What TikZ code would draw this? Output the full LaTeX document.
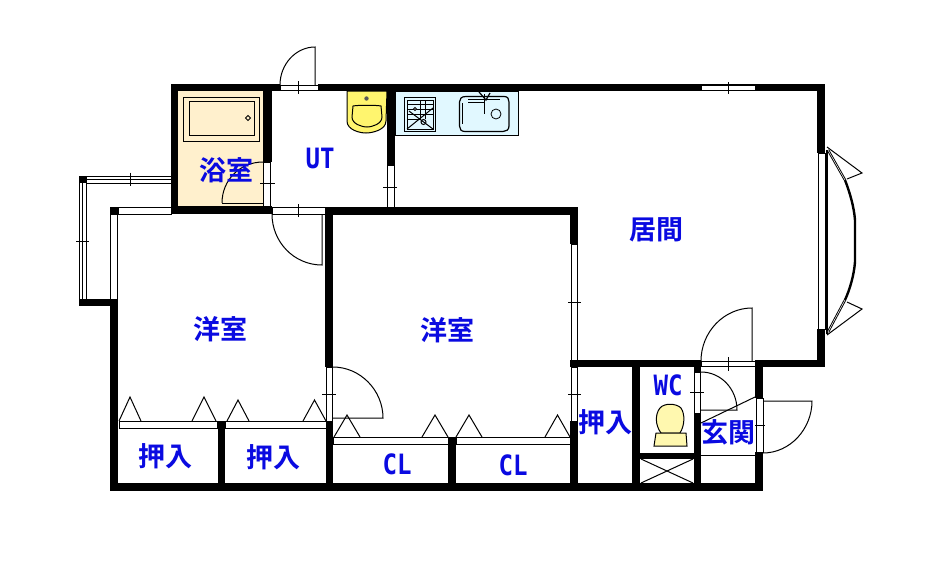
\documentclass[tikz,border=0pt]{standalone}
\usepackage{fontspec}
\newfontfamily\jp{Noto Sans CJK JP}[BoldFont={Noto Sans CJK JP Bold}]
\newfontfamily\lat{DejaVu Sans Mono}
\definecolor{txtblue}{RGB}{10,10,225}
\definecolor{bathfill}{RGB}{255,240,205}
\definecolor{sinkfill}{RGB}{225,248,255}
\definecolor{basinfill}{RGB}{255,245,110}
\definecolor{wcfill}{RGB}{255,248,175}
\tikzset{
  wallfill/.style={fill=black,draw=none},
  thin line/.style={draw=black,line width=1pt},
  winbox/.style={draw=black,fill=white,line width=1pt},
  roomlabel/.style={font=\jp\bfseries\fontsize{27}{27}\selectfont,text=txtblue,inner sep=0pt},
  latlabel/.style={font=\lat\bfseries\fontsize{28}{28}\selectfont,text=txtblue,inner sep=0pt},
}
\newcommand{\wl}[4]{\fill[wallfill] (#1,#2) rectangle (#3,#4);}
\newcommand{\wn}[4]{\draw[winbox] (#1,#2) rectangle (#3,#4);}
\newcommand{\tri}[4]{\draw[thin line] (#1,#4) -- (#2,#3) -- ++(#2-#1,#4-#3);}
\begin{document}
\begin{tikzpicture}[x=1pt,y=-1pt]
\useasboundingbox (0,0) rectangle (930,576);
\fill[white] (0,0) rectangle (930,576);
% fills
\fill[bathfill] (178,91) rectangle (263,206);
% balcony
\draw[thin line] (79,176) -- (171,176) (87,179.5) -- (171,179.5) (87,183) -- (171,183);
\draw[thin line] (79.5,176) -- (79.5,299) (82.5,183) -- (82.5,299) (86.5,183) -- (86.5,299);
\wl{79}{176}{87}{183}
\draw[thin line] (130,172.5) -- (130,186);
\draw[thin line] (76,241) -- (89,241);
% left bedroom windows
\wn{118}{207.5}{171}{214}
\wn{110.5}{214}{117.5}{299}
\wl{110}{207}{118}{214}
\wl{79}{299}{118}{306}
% outer walls
\wl{171}{84}{280}{91}
\wl{318}{84}{825}{91}
\wl{171}{84}{178}{214}
\wl{171}{206}{272}{214}
\wl{263}{84}{272}{162}
\wl{387}{84}{395}{165}
\wl{325}{207}{578}{215}
\wl{325}{207}{333}{367}
\wl{570}{207}{578}{244}
\wl{110}{299}{118}{491}
\wl{110}{483}{763}{491}
\wl{817}{84}{825}{153}
\wl{817}{329}{825}{367}
\wl{570}{360}{701}{367}
\wl{755}{360}{825}{367}
\wl{570}{421}{578}{491}
\wl{326}{421}{333}{491}
\wl{218}{421}{225}{491}
\wl{448}{437}{456}{491}
\wl{632}{360}{640}{491}
\wl{694}{360}{701}{372}
\wl{694}{413}{701}{491}
\wl{640}{453}{694}{459}
\wl{755}{360}{763}{398}
\wl{755}{452}{763}{491}
% windows and openings
\wn{280}{85}{318}{90.5}
\draw[thin line] (298,81) -- (298,94);
\wn{701}{85}{755}{90.5}
\draw[thin line] (728,82) -- (728,94);
\wn{263.5}{162}{270}{206}
\draw[thin line] (260,183) -- (275,183);
\wn{272}{207.5}{325}{214.5}
\draw[thin line] (298,204) -- (298,217);
\wn{387.5}{165}{394.5}{207}
\draw[thin line] (383,187) -- (397,187);
\wn{571}{244}{577.5}{360}
\draw[thin line] (568,302) -- (581,302);
\wn{571}{367}{577.5}{421}
\draw[thin line] (568,394) -- (581,394);
\wn{326}{367}{332.5}{421}
\draw[thin line] (322,394) -- (336,394);
\wn{818}{153}{825}{329}
\wn{701}{361}{755}{366.5}
\draw[thin line] (728,357) -- (728,371);
\wn{694.5}{372}{700.5}{413}
\draw[thin line] (690,392) -- (704,392);
\wn{756}{398}{763}{452}
\draw[thin line] (755,425) -- (765,425);
% sliding doors
\wn{119}{421}{217}{428}
\wn{225}{421}{326}{428}
\wn{333}{437}{448}{444}
\wn{456}{437}{570}{444}
% folding door triangles
\tri{119}{130}{397}{421}
\tri{192}{204}{397}{421}
\tri{227}{238}{400}{421}
\tri{303}{314.5}{400}{421}
\tri{334}{347}{415}{437}
\tri{422}{435}{415}{437}
\tri{456}{469}{415}{437}
\tri{545}{557.5}{415}{437}
% door swings
\draw[thin line] (280,85) .. controls (280,64) and (296,47) .. (315,47) -- (315,85);
\draw[thin line] (222,203) .. controls (222,180) and (240,162) .. (263,162);
\draw[thin line] (222,203) -- (263,203);
\draw[thin line] (272,214) .. controls (272,242) and (294,265) .. (322,265) -- (322,214);
\draw[thin line] (333,367) .. controls (360,367) and (383,390) .. (383,418) -- (333,418);
\draw[thin line] (701,361) .. controls (701,332) and (724,308) .. (752,308) -- (752,361);
\draw[thin line] (701,372) .. controls (721,372) and (737,389) .. (737,410) -- (701,410);
\draw[thin line] (763,401) -- (812,401) .. controls (812,429) and (790,453) .. (763,453);
\draw[thin line] (701,423) -- (755,397);
\draw[thin line] (701,455) -- (755,455);
% storage cross
\draw[thin line] (641,459) -- (693,483) (693,459) -- (641,483);
% bay window
\draw[black,line width=2pt] (827,150) -- (827,334);
\draw[thin line] (827,147) -- (862,173) -- (847,179);
\draw[thin line] (827,335) -- (862,309) -- (847,302);
\draw[black,line width=2.4pt] (828,150) -- (845,180) .. controls (850,193) and (854,207) .. (855,220) -- (855,262) .. controls (854,275) and (850,289) .. (845,300) -- (828,332);
\draw[white,line width=.5pt] (828,150) -- (845,180) (845,300) -- (828,332);
% bath tub
\draw[thin line] (183,97) rectangle (259,141);
\draw[thin line] (189,101) rectangle (254,135);
\draw[line width=.8pt] (248,115.5) -- (250.5,118) -- (248,120.5) -- (245.5,118) -- cycle;
% basin
\draw[thin line,fill=basinfill] (347,91) -- (387,91) -- (386,121) .. controls (386,130) and (372,133) .. (366,133) .. controls (360,133) and (347,130) .. (347,121) -- cycle;
\draw[thin line] (353,106) .. controls (358,105) and (376,105) .. (381,106) -- (382,117) .. controls (382,124) and (372,127) .. (367,127) .. controls (362,127) and (352,124) .. (352,117) -- cycle;
\fill[gray!70!black] (366.5,98.5) circle (2.2);
% counter
\draw[draw=black,line width=.8pt,fill=sinkfill] (395,91) rectangle (518,135.5);
\draw[line width=1pt] (404.5,97.5) rectangle (435.5,131.5);
\draw[line width=1pt] (407,100) rectangle (433,129);
\draw[line width=1pt] (407,104) -- (433,104) (407,109) -- (433,109) (407,114) -- (433,114) (407,119) -- (420,119);
\draw[line width=1pt] (420,100) -- (420,119) (425,100) -- (425,119);
\draw[line width=1pt] (407,129) -- (433,108) (433,129) -- (409,111);
\draw[line width=1pt,fill=white] (415,109) circle (1.5);
\draw[line width=1pt] (423.5,122) circle (2.5);
\draw[line width=1.2pt] (466,96.5) -- (504,96.5) .. controls (508,96.5) and (509,99) .. (509,102) -- (509,126) .. controls (509,130) and (506,131.5) .. (503,131.5) -- (465,131.5) .. controls (461,131.5) and (459.5,129) .. (459.5,126) -- (459.5,102) .. controls (459.5,99) and (461,96.5) .. (466,96.5) -- cycle;
\draw[line width=.7pt] (468,99) -- (500,99) (462,103) -- (462,124);
\draw[line width=1.4pt] (484.5,94) -- (484.5,114);
\draw[line width=1.2pt] (479,92) -- (486,100) -- (490,93);
\draw[line width=1pt] (468,102) -- (484,102);
\draw[line width=.8pt] (496,114) circle (5);
% toilet
\draw[thin line,fill=wcfill] (661,433) .. controls (655,425) and (655,414) .. (660,408) .. controls (664,403) and (676,403) .. (681,408) .. controls (685,414) and (685,425) .. (680,433) -- cycle;
\draw[thin line,fill=wcfill] (656,433) -- (686,433) -- (687,446) -- (654,446) -- cycle;
% labels
\node[roomlabel] (bath) at (226,170) {浴室};
\node[latlabel] (ut) at (320,158) {\scalebox{.86}[1]{UT}};
\node[roomlabel] (living) at (656,230) {居間};
\node[roomlabel] (west1) at (220,329) {洋室};
\node[roomlabel] (west2) at (447,330) {洋室};
\node[roomlabel] (oshi1) at (165,456) {押入};
\node[roomlabel] (oshi2) at (273,457) {押入};
\node[roomlabel] (oshi3) at (605,422) {押入};
\node[latlabel] (cl1) at (397,464) {\scalebox{.86}[1]{CL}};
\node[latlabel] (cl2) at (513,465) {\scalebox{.86}[1]{CL}};
\node[latlabel] (wc) at (668,385) {\scalebox{.86}[1]{WC}};
\node[roomlabel] (genkan) at (728,432) {玄関};
\end{tikzpicture}
\end{document}
